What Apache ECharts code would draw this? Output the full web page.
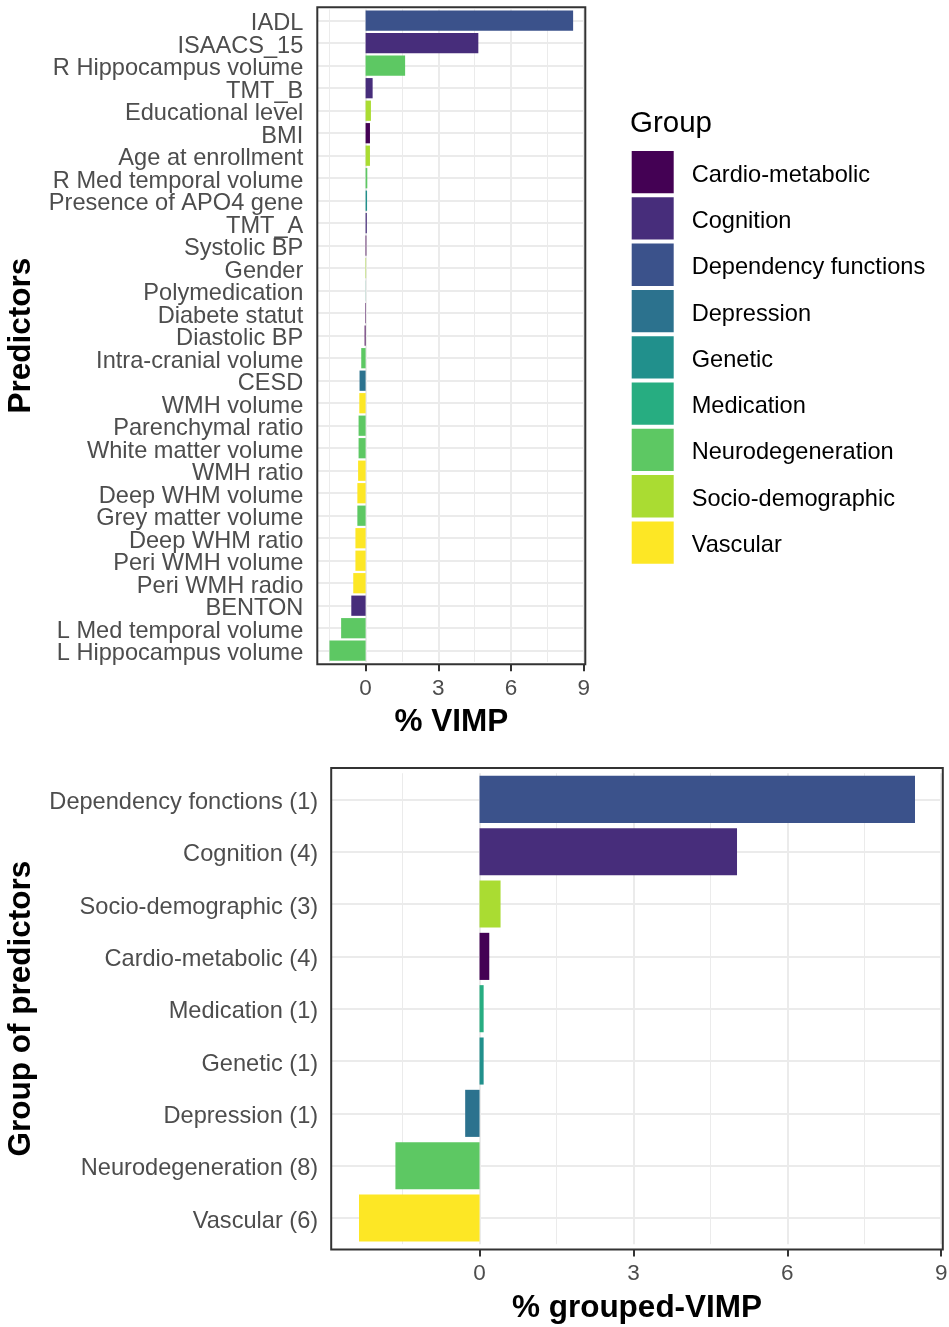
<!DOCTYPE html>
<html>
<head>
<meta charset="utf-8">
<script src="https://cdn.jsdelivr.net/npm/echarts@6/dist/echarts.min.js"></script>
<style>
  html, body { margin: 0; padding: 0; background: #ffffff; }
  #chart { width: 949px; height: 1327px; }
</style>
</head>
<body>
<div id="chart"></div>
<script>
// ---- Data -------------------------------------------------------------
const groupNames = ['Cardio-metabolic', 'Cognition', 'Dependency functions', 'Depression',
  'Genetic', 'Medication', 'Neurodegeneration', 'Socio-demographic', 'Vascular'];
const groupColors = ['#440154', '#472D7B', '#3B528B', '#2C728E', '#21908C',
  '#27AD81', '#5DC863', '#AADC32', '#FDE725'];

const predictors = ['IADL', 'ISAACS_15', 'R Hippocampus volume', 'TMT_B', 'Educational level',
  'BMI', 'Age at enrollment', 'R Med temporal volume', 'Presence of APO4 gene', 'TMT_A',
  'Systolic BP', 'Gender', 'Polymedication', 'Diabete statut', 'Diastolic BP',
  'Intra-cranial volume', 'CESD', 'WMH volume', 'Parenchymal ratio', 'White matter volume',
  'WMH ratio', 'Deep WHM volume', 'Grey matter volume', 'Deep WHM ratio', 'Peri WMH volume',
  'Peri WMH radio', 'BENTON', 'L Med temporal volume', 'L Hippocampus volume'];
const predictorGroup = ['Dependency functions', 'Cognition', 'Neurodegeneration', 'Cognition',
  'Socio-demographic', 'Cardio-metabolic', 'Socio-demographic', 'Neurodegeneration', 'Genetic',
  'Cognition', 'Cardio-metabolic', 'Socio-demographic', 'Medication', 'Cardio-metabolic',
  'Cardio-metabolic', 'Neurodegeneration', 'Depression', 'Vascular', 'Neurodegeneration',
  'Neurodegeneration', 'Vascular', 'Vascular', 'Neurodegeneration', 'Vascular', 'Vascular',
  'Vascular', 'Cognition', 'Neurodegeneration', 'Neurodegeneration'];
const vimp = [8.56, 4.65, 1.63, 0.29, 0.22, 0.18, 0.18, 0.07, 0.06, 0.05,
  0.03, 0.02, 0.005, -0.02, -0.04, -0.18, -0.25, -0.26, -0.29, -0.29,
  -0.31, -0.34, -0.34, -0.42, -0.42, -0.51, -0.59, -1.01, -1.49];

const groupedLabels = ['Dependency fonctions (1)', 'Cognition (4)', 'Socio-demographic (3)',
  'Cardio-metabolic (4)', 'Medication (1)', 'Genetic (1)', 'Depression (1)',
  'Neurodegeneration (8)', 'Vascular (6)'];
const groupedGroup = ['Dependency functions', 'Cognition', 'Socio-demographic', 'Cardio-metabolic',
  'Medication', 'Genetic', 'Depression', 'Neurodegeneration', 'Vascular'];
const groupedVimp = [8.49, 5.02, 0.41, 0.19, 0.08, 0.08, -0.28, -1.64, -2.35];

const xMajorTicks = [0, 3, 6, 9];
const xMinorTicks = [-1.5, 1.5, 4.5, 7.5];

// ---- Layout -----------------------------------------------------------
const FONT = 'Liberation Sans, Arial, sans-serif';
const TEXT_GREY = '#4D4D4D';
const BORDER = '#333333';
const GRID_COL = '#EBEBEB';

const panels = [
  { left: 317.3, right: 585.3, top: 7.2, bottom: 664.2 },
  { left: 331.2, right: 942.8, top: 768.0, bottom: 1249.4 }
];

// discrete axis padded by 0.6 of a step on each side of the outer categories
function gridFor(p, n) {
  const step = (p.bottom - p.top) / (n - 1 + 1.2);
  const pad = step * 0.1;
  return { left: p.left, top: p.top + pad, width: p.right - p.left,
    height: p.bottom - p.top - 2 * pad, pad: pad };
}
// continuous axis padded by 5% of the data range
function valueRange(vals) {
  const lo = Math.min(...vals), hi = Math.max(...vals);
  const e = (hi - lo) * 0.05;
  return [lo - e, hi + e];
}

const g0 = gridFor(panels[0], predictors.length);
const g1 = gridFor(panels[1], groupedLabels.length);
const r0 = valueRange(vimp);
const r1 = valueRange(groupedVimp);

function xAxisFor(gridIndex, range, name, offset, nameGap) {
  return {
    type: 'value', gridIndex: gridIndex, min: range[0], max: range[1], offset: offset,
    axisLine: { show: false },
    axisTick: { show: true, customValues: xMajorTicks, length: 7,
      lineStyle: { color: BORDER, width: 2 } },
    axisLabel: { show: true, customValues: xMajorTicks, fontSize: 22.5, color: TEXT_GREY,
      fontFamily: FONT, margin: 13 },
    splitLine: { show: false },
    name: name, nameLocation: 'middle', nameGap: nameGap,
    nameTextStyle: { fontSize: 31.5, fontWeight: 'bold', color: '#000', fontFamily: FONT }
  };
}
function yAxisFor(gridIndex, cats, name, nameGap, margin) {
  return {
    type: 'category', gridIndex: gridIndex, data: cats, inverse: true,
    axisLine: { show: false },
    axisTick: { show: true, alignWithLabel: true, interval: 0, length: 7,
      lineStyle: { color: BORDER, width: 2 } },
    axisLabel: {
      interval: 0, margin: margin, formatter: '{t|{value}}',
      rich: { t: { fontSize: 23.6, color: TEXT_GREY, fontFamily: FONT, padding: [6, 0, 0, 0] } }
    },
    splitLine: { show: false },
    name: name, nameLocation: 'middle', nameRotate: 90, nameGap: nameGap,
    nameTextStyle: { fontSize: 31.5, fontWeight: 'bold', color: '#000', fontFamily: FONT }
  };
}

// background grid lines: one per category, major and minor verticals
function gridLines(idx, cats) {
  const data = [];
  cats.forEach((c, i) => data.push({ yAxis: i, lineStyle: { width: 2, color: GRID_COL } }));
  xMajorTicks.forEach(v => data.push({ xAxis: v, lineStyle: { width: 2, color: GRID_COL } }));
  xMinorTicks.forEach(v => data.push({ xAxis: v, lineStyle: { width: 1, color: GRID_COL } }));
  return {
    type: 'line', xAxisIndex: idx, yAxisIndex: idx, data: [], silent: true, z: 1,
    markLine: { silent: true, symbol: ['none', 'none'], animation: false, z: 1,
      label: { show: false }, lineStyle: { type: 'solid' }, data: data }
  };
}

function barSeries(idx, cats, groups, vals, stackName) {
  return groupNames.map((g, k) => ({
    type: 'bar', name: g, xAxisIndex: idx, yAxisIndex: idx, stack: stackName, z: 3,
    barCategoryGap: '10%',
    itemStyle: { color: groupColors[k] },
    emphasis: { disabled: true },
    data: vals.map((v, i) => groups[i] === g ? v : null)
  }));
}

const option = {
  backgroundColor: '#ffffff',
  animation: false,
  textStyle: { fontFamily: FONT },
  title: {
    text: 'Group', left: 630, top: 109, padding: 0,
    textStyle: { fontSize: 29.5, fontWeight: 'normal', color: '#000', fontFamily: FONT }
  },
  legend: {
    data: groupNames, orient: 'vertical', left: 631.7, top: 151, padding: 0,
    icon: 'rect', itemWidth: 42, itemHeight: 42.3, itemGap: 4,
    selectedMode: false,
    formatter: '{t|{name}}',
    textStyle: {
      fontSize: 23.6, color: '#000', fontFamily: FONT,
      rich: { t: { fontSize: 23.6, color: '#000', fontFamily: FONT, padding: [6, 0, 0, 13] } }
    }
  },
  grid: [
    { left: g0.left, top: g0.top, width: g0.width, height: g0.height, outerBoundsMode: 'none' },
    { left: g1.left, top: g1.top, width: g1.width, height: g1.height, outerBoundsMode: 'none' }
  ],
  xAxis: [
    xAxisFor(0, r0, '% VIMP', g0.pad, 42),
    xAxisFor(1, r1, '% grouped-VIMP', g1.pad, 43)
  ],
  yAxis: [
    yAxisFor(0, predictors, 'Predictors', 280, 14),
    yAxisFor(1, groupedLabels, 'Group of predictors', 294, 13)
  ],
  graphic: panels.map(p => ({
    type: 'rect', z: 100, silent: true,
    shape: { x: p.left, y: p.top, width: p.right - p.left, height: p.bottom - p.top },
    style: { fill: 'none', stroke: BORDER, lineWidth: 2 }
  })),
  series: [
    gridLines(0, predictors),
    gridLines(1, groupedLabels),
    ...barSeries(0, predictors, predictorGroup, vimp, 'top'),
    ...barSeries(1, groupedLabels, groupedGroup, groupedVimp, 'bottom')
  ]
};

const chart = echarts.init(document.getElementById('chart'), null, { renderer: 'canvas' });
chart.setOption(option);
</script>
</body>
</html>
